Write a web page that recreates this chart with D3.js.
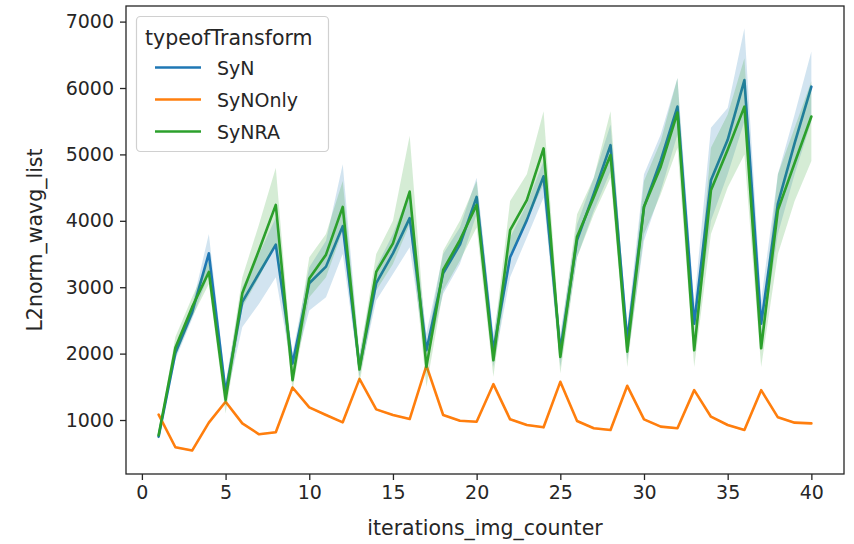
<!DOCTYPE html>
<html>
<head>
<meta charset="utf-8">
<script src="https://cdn.jsdelivr.net/npm/d3@7"></script>
<style>
  body { margin: 0; background: #fff; }
  svg text { font-family: "DejaVu Sans", sans-serif; fill: #262626; }
</style>
</head>
<body>
<div id="chart"></div>
<script>
// x values
var iterations = [1,2,3,4,5,6,7,8,9,10,11,12,13,14,15,16,17,18,19,20,
                  21,22,23,24,25,26,27,28,29,30,31,32,33,34,35,36,37,38,39,40];

// SyN
var synMean = [750,2010,2620,3510,1420,2780,3210,3640,1850,3060,3310,3920,1800,3060,3510,4040,2050,3210,3640,4360,
               2050,3450,4010,4670,2050,3710,4410,5140,2200,4210,4910,5720,2450,4610,5220,6120,2450,4260,5170,6020];
var synLow  = [700,1910,2520,3200,1280,2400,2750,3150,1700,2650,2850,3500,1650,2800,3200,3600,1850,2900,3350,4100,
               1800,3150,3750,4350,1800,3450,4150,4750,1900,3700,4450,5300,2150,4000,4700,5500,2100,3800,4700,5500];
var synHigh = [800,2110,2720,3800,1570,3000,3500,4050,2000,3300,3700,4850,2000,3300,3800,4450,2300,3500,3900,4650,
               2300,3750,4250,4900,2300,3950,4650,5450,2400,4700,5300,6150,2750,5400,5700,6900,2800,4700,5600,6550];

// SyNOnly
var synOnlyMean = [1080,590,540,960,1275,950,785,815,1490,1190,1075,965,1620,1160,1075,1015,1820,1075,990,975,
                   1540,1010,925,890,1575,985,875,850,1515,1010,900,875,1450,1050,925,850,1450,1040,960,950];

// SyNRA
var synraMean = [770,2090,2700,3230,1300,2910,3560,4240,1600,3130,3490,4210,1760,3230,3660,4440,1800,3260,3710,4240,
                 1900,3860,4310,5090,1950,3760,4360,4990,2030,4210,4815,5630,2050,4460,5070,5720,2080,4160,4870,5570];
var synraLow  = [720,1950,2550,3050,1100,2700,3150,3650,1450,2850,3150,3850,1550,2950,3350,3950,1500,2950,3400,3900,
                 1650,3500,4000,4550,1700,3450,4100,4650,1800,3800,4400,5100,1800,3800,4500,5000,1800,3500,4300,4900];
var synraHigh = [820,2250,2850,3400,1500,3150,3950,4800,1800,3450,3800,4600,1950,3500,4000,5280,2100,3550,4000,4600,
                 2150,4300,4700,5650,2200,4100,4650,5650,2250,4600,5200,6150,2300,5100,5600,6450,2350,4700,5400,6100];

var seriesNames = ["SyN", "SyNOnly", "SyNRA"];
var colors = ["#1f77b4", "#ff7f0e", "#2ca02c"];
var xTicks = [0,5,10,15,20,25,30,35,40];
var yTicks = [1000,2000,3000,4000,5000,6000,7000];

var width = 854, height = 544;
var margin = {left: 126, right: 10, top: 6, bottom: 70};

var svg = d3.select("#chart").append("svg")
    .attr("width", width)
    .attr("height", height);

var x = d3.scaleLinear()
    .domain([-0.95, 41.95])
    .range([margin.left, width - margin.right]);

var y = d3.scaleLinear()
    .domain([187, 7235])
    .range([height - margin.bottom, margin.top]);

var series = [
    {name: "SyN", mean: synMean, low: synLow, high: synHigh},
    {name: "SyNOnly", mean: synOnlyMean, low: synOnlyMean.map(function (v) { return v - 15; }), high: synOnlyMean.map(function (v) { return v + 15; })},
    {name: "SyNRA", mean: synraMean, low: synraLow, high: synraHigh}
];

var line = d3.line()
    .x(function (d) { return x(d.x); })
    .y(function (d) { return y(d.m); });

var area = d3.area()
    .x(function (d) { return x(d.x); })
    .y0(function (d) { return y(d.lo); })
    .y1(function (d) { return y(d.hi); });

var plot = svg.append("g");

series.forEach(function (s, i) {
    var pts = iterations.map(function (it, j) {
        return {x: it, m: s.mean[j], lo: s.low[j], hi: s.high[j]};
    });
    plot.append("path")
        .datum(pts)
        .attr("d", line)
        .attr("fill", "none")
        .attr("stroke", colors[i])
        .attr("stroke-width", 2.6)
        .attr("stroke-linejoin", "round")
        .attr("stroke-linecap", "round");
    plot.append("path")
        .datum(pts)
        .attr("d", area)
        .attr("fill", colors[i])
        .attr("fill-opacity", 0.2)
        .attr("stroke", "none");
});

// axes
var xAxis = svg.append("g")
    .attr("transform", "translate(0," + (height - margin.bottom) + ")")
    .call(d3.axisBottom(x).tickValues(xTicks).tickSize(6).tickPadding(6).tickFormat(d3.format("d")));

var yAxis = svg.append("g")
    .attr("transform", "translate(" + margin.left + ",0)")
    .call(d3.axisLeft(y).tickValues(yTicks).tickSize(6).tickPadding(6).tickFormat(d3.format("d")));

[xAxis, yAxis].forEach(function (a) {
    a.select(".domain").remove();
    a.selectAll(".tick line").attr("stroke", "#262626").attr("stroke-width", 1.3);
    a.selectAll(".tick text").style("font-size", "19px").attr("fill", "#262626");
});

// frame
svg.append("rect")
    .attr("x", margin.left)
    .attr("y", margin.top)
    .attr("width", width - margin.left - margin.right)
    .attr("height", height - margin.top - margin.bottom)
    .attr("fill", "none")
    .attr("stroke", "#262626")
    .attr("stroke-width", 1.3);

svg.append("text")
    .attr("x", (margin.left + width - margin.right) / 2)
    .attr("y", 535)
    .attr("text-anchor", "middle")
    .style("font-size", "20.5px")
    .text("iterations_img_counter");

svg.append("text")
    .attr("transform", "translate(42," + ((margin.top + height - margin.bottom) / 2) + ") rotate(-90)")
    .attr("text-anchor", "middle")
    .style("font-size", "20.5px")
    .text("L2norm_wavg_list");

// legend
var legend = svg.append("g");
legend.append("rect")
    .attr("x", 136.5)
    .attr("y", 16.5)
    .attr("width", 192)
    .attr("height", 135)
    .attr("rx", 4)
    .attr("fill", "#fff")
    .attr("fill-opacity", 0.8)
    .attr("stroke", "#d0d0d0")
    .attr("stroke-width", 1.2);

legend.append("text")
    .attr("x", 145)
    .attr("y", 45)
    .style("font-size", "20.5px")
    .text("typeofTransform");

seriesNames.forEach(function (n, i) {
    var ly = 67.5 + i * 32;
    legend.append("line")
        .attr("x1", 155).attr("x2", 201)
        .attr("y1", ly).attr("y2", ly)
        .attr("stroke", colors[i])
        .attr("stroke-width", 2.6);
    legend.append("text")
        .attr("x", 217)
        .attr("y", ly + 7)
        .style("font-size", "19px")
        .text(n);
});
</script>
</body>
</html>
